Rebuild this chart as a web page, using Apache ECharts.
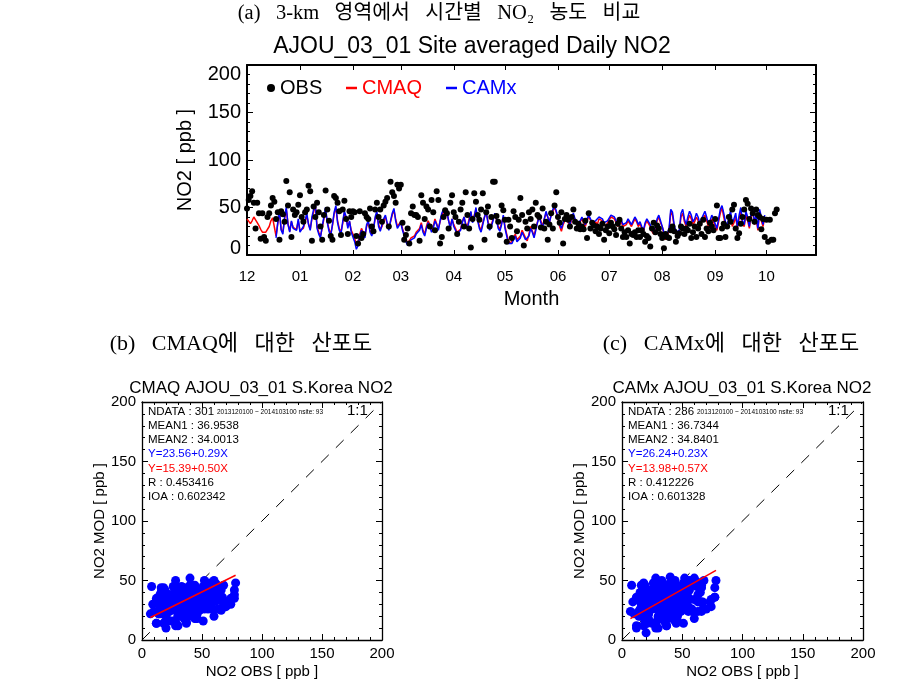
<!DOCTYPE html>
<html><head><meta charset="utf-8">
<script src="https://cdn.jsdelivr.net/npm/echarts@6/dist/echarts.min.js"></script>
<style>html,body{margin:0;padding:0;background:#fff}#c{width:920px;height:696px}</style>
</head><body><div id="c"></div>
<script>
// ---- data (daily, starting 2013-12-01) ----
const obsDec=[49,58,62,67,55,28,55,44,17,44,19,15,40,44,52,60,56,38,45,16,46,43,35,78,52,66,19,48,42,45,53];
const obsJan=[63,40,35,45,48,73,67,15,51,40,55,45,30,16,42,68,48,36,20,16,62,60,55,46,21,48,57,38,22,46,40];
const obsFeb=[46,45,20,12,46,18,22,44,40,38,49,30,25,48,55,40,48,35,52,56,60,30,77,66,62,55,74,70];
const obsMar=[74,34,16,21,28,12,44,51,42,42,40,15,63,55,38,51,48,30,58,45,26,67,58,12,19,40,47,44,28,55,63];
const obsApr=[45,40,22,35,48,55,30,66,42,28,8,38,65,56,42,37,48,65,16,45,51,30,40,77,77,41,35,21,52,47];
const obsMay=[37,14,37,30,18,46,40,25,37,60,42,10,35,28,45,38,48,30,55,42,40,29,49,28,35,16,32,44,28,52,66];
const obsJun=[40,34,45,12,38,42,37,30,40,48,35,28,33,27,30,27,36,18,44,28,34,31,25,30,22,28,33,16,26,30];
const obsJul=[23,34,30,27,21,33,37,28,19,24,19,26,12,22,21,24,19,26,19,26,22,14,20,18,9,28,34,24,31,28,22];
const obsAug=[18,7,22,19,18,26,30,25,14,20,23,30,28,22,28,26,33,18,24,30,19,28,33,22,37,19,28,25,34,30,26];
const obsSep=[38,52,18,18,28,33,19,30,40,35,48,53,28,18,23,33,40,48,58,54,38,49,44,35,48,42,40,27,38,19];
const obsOct=[37,14,37,16,16,44,48];

const cmaqDec=[38,37,33,36,40,37,34,31,27,24,23,24,26,30,36,39,37,20,33,44,27,24,38,48,33,25,35,29,31,27,36];
const cmaqJan=[26,24,28,35,41,33,27,38,45,52,30,24,20,28,38,46,35,27,22,31,43,50,36,28,24,33,44,40,30,35,26];
const cmaqFeb=[25,18,10,14,22,28,24,20,30,34,26,22,28,38,44,32,27,30,36,40,33,28,35,42,47,38,30,28];
const cmaqMar=[35,28,22,17,12,14,18,16,20,24,22,28,34,26,22,30,36,32,26,30,38,33,28,35,42,46,40,44,36,30,38];
const cmaqApr=[32,28,24,22,27,35,40,33,30,38,45,36,42,48,38,30,26,34,40,44,36,28,32,38,42,37,30,27,34,40];
const cmaqMay=[30,22,15,12,14,18,22,16,14,20,26,24,18,15,22,30,25,20,28,35,40,36,30,38,44,40,35,42,46,50,45];
const cmaqJun=[38,30,25,32,36,40,34,30,38,42,36,33,30,35,38,34,30,36,40,37,33,30,35,32,38,40,36,33,30,34];
const cmaqJul=[36,40,42,38,34,30,32,35,30,28,32,36,33,30,34,38,35,30,33,28,25,32,36,34,30,25,22,28,36,40,34];
const cmaqAug=[30,22,16,15,25,45,42,30,22,20,24,40,44,35,30,36,42,38,32,35,40,36,30,34,38,42,36,30,33,38,35];
const cmaqSep=[30,26,35,44,50,40,32,28,36,42,30,34,40,28,38,45,33,30,42,36,28,40,46,32,38,26,44,36,30,40];

const camxStartDay=17;
const camxDec=[18,34,46,26,22,40,50,32,24,36,28,30,26,38];
const camxJan=[24,22,30,36,44,32,26,40,48,53,28,22,18,30,40,50,34,25,20,32,45,52,34,26,22,35,46,40,28,36,24];
const camxFeb=[22,14,6,10,20,26,22,18,32,36,24,20,26,40,46,30,25,32,38,42,34,26,36,44,49,36,28,26];
const camxMar=[34,26,20,14,10,12,16,14,18,22,20,26,32,24,20,28,34,30,24,28,36,32,26,36,44,48,42,46,36,28,38];
const camxApr=[30,26,22,20,26,34,40,32,28,36,46,34,40,50,36,28,24,32,40,46,34,26,30,36,44,38,28,25,32,42];
const camxMay=[28,20,12,10,12,16,20,14,12,18,24,22,16,14,20,28,24,18,26,34,40,34,28,38,46,40,34,42,48,52,46];
const camxJun=[40,32,28,34,38,42,36,32,40,44,38,34,32,36,40,36,32,38,42,38,34,32,36,34,40,42,38,34,32,36];
const camxJul=[38,42,44,40,36,32,34,37,32,30,34,38,35,32,36,40,37,32,35,30,26,34,38,36,32,27,24,30,38,42,36];
const camxAug=[34,24,18,16,28,48,45,32,24,22,26,44,48,38,32,40,46,42,35,38,44,40,33,38,42,46,40,33,36,42,38];
const camxSep=[33,28,38,48,52,44,35,30,40,46,34,38,44,30,42,50,36,32,46,40,30,44,50,34,42,28,48,40,32,42];

const statsCMAQ=['NDATA : 301','MEAN1 : 36.9538','MEAN2 : 34.0013','Y=23.56+0.29X','Y=15.39+0.50X','R : 0.453416','IOA : 0.602342'];
const statsCAMx=['NDATA : 286','MEAN1 : 36.7344','MEAN2 : 34.8401','Y=26.24+0.23X','Y=13.98+0.57X','R : 0.412226','IOA : 0.601328'];
const regCMAQ=[15.39,0.50];
const regCAMx=[13.98,0.57];
const periodNote='2013120100 ~ 2014103100 nsite: 93';

// ---- build ----
const nDays=334;
const days=[];
const t0=Date.UTC(2013,11,1);
for(let i=0;i<nDays;i++){days.push(new Date(t0+i*86400000).toISOString().slice(0,10));}
function pad(arr){const a=arr.slice();while(a.length<nDays)a.push(null);return a;}
const obs=pad([].concat(obsDec,obsJan,obsFeb,obsMar,obsApr,obsMay,obsJun,obsJul,obsAug,obsSep,obsOct));
const cmaq=pad([].concat(cmaqDec,cmaqJan,cmaqFeb,cmaqMar,cmaqApr,cmaqMay,cmaqJun,cmaqJul,cmaqAug,cmaqSep));
const camxRaw=[];for(let i=0;i<camxStartDay;i++)camxRaw.push(null);
const camx=pad(camxRaw.concat(camxDec,camxJan,camxFeb,camxMar,camxApr,camxMay,camxJun,camxJul,camxAug,camxSep));
function pairs(mod){const p=[];for(let i=0;i<nDays;i++){if(obs[i]!=null&&mod[i]!=null)p.push([obs[i],mod[i]]);}return p;}
const pC=pairs(cmaq), pX=pairs(camx);
function regLine(p,c){let mn=Infinity,mx=-Infinity;p.forEach(d=>{mn=Math.min(mn,d[0]);mx=Math.max(mx,d[0]);});return [[mn,c[0]+c[1]*mn],[mx,c[0]+c[1]*mx]];}

const SANS="'Liberation Sans','Noto Sans',sans-serif";
const SERIF="'Liberation Serif','Noto Sans CJK KR',serif";
const GAP='\u2002 ';
const isMonth=(i,v)=>v.slice(8)==='01';

function valAxis(grid,pos,labels,name,nameGap,fs){
  return {type:'value',gridIndex:grid,position:pos,min:0,max:200,interval:50,
    axisLine:{show:true,onZero:false,lineStyle:{color:'#000',width:1.3}},
    axisTick:{show:true,inside:true,length:6,lineStyle:{color:'#000'}},
    minorTick:{show:true,splitNumber:5,length:3,lineStyle:{color:'#000'}},
    splitLine:{show:false},
    axisLabel:{show:labels,color:'#000',fontSize:fs,fontFamily:SANS,margin:6},
    name:name||'',nameLocation:'middle',nameGap:nameGap||0,
    nameTextStyle:{color:'#000',fontSize:fs,fontFamily:SANS}};
}

const xAxis=[
  {type:'category',gridIndex:0,data:days,boundaryGap:false,position:'bottom',
   axisLine:{show:true,onZero:false,lineStyle:{color:'#000',width:2}},
   axisTick:{show:true,inside:true,interval:isMonth,length:5,lineStyle:{color:'#000'}},
   axisLabel:{interval:isMonth,formatter:v=>v.slice(5,7),color:'#000',fontSize:15,fontFamily:SANS,margin:14},
   name:'Month',nameLocation:'middle',nameGap:34,nameTextStyle:{color:'#000',fontSize:20,fontFamily:SANS}},
  {type:'category',gridIndex:0,data:days,boundaryGap:false,position:'top',
   axisLine:{show:true,onZero:false,lineStyle:{color:'#000',width:2}},
   axisTick:{show:true,inside:true,interval:isMonth,length:5,lineStyle:{color:'#000'}},
   axisLabel:{show:false}},
  valAxis(1,'bottom',true,'NO2 OBS [ ppb ]',24,15),
  valAxis(1,'top',false),
  valAxis(2,'bottom',true,'NO2 OBS [ ppb ]',24,15),
  valAxis(2,'top',false)
];
const yA0=valAxis(0,'left',true,'NO2 [ ppb ]',52,20); yA0.axisLine.lineStyle.width=2;
yA0.axisLabel.formatter=v=>v===200?'{t|200}':(v===0?'{b|0}':String(v));
yA0.axisLabel.rich={t:{fontSize:20,fontFamily:SANS,color:'#000',padding:[18,0,0,0]},b:{fontSize:20,fontFamily:SANS,color:'#000',padding:[0,0,14,0]}};
const yA1=valAxis(0,'right',false); yA1.axisLine.lineStyle.width=2;
const yAxis=[yA0,yA1,
  valAxis(1,'left',true,'NO2 MOD [ ppb ]',32,15), valAxis(1,'right',false),
  valAxis(2,'left',true,'NO2 MOD [ ppb ]',32,15), valAxis(2,'right',false)];

function statsGraphics(x0,lines,x11){
  const cols=['#000','#000','#000','#0000ff','#ff0000','#000','#000'];
  const g=[];
  lines.forEach((t,i)=>g.push({type:'text',x:x0,y:411.7+i*14.2,style:{text:t,font:'11.5px '+SANS,fill:cols[i],align:'left',verticalAlign:'middle'}}));
  g.push({type:'text',x:x0+69,y:412,style:{text:periodNote,font:'6.5px '+SANS,fill:'#000',align:'left',verticalAlign:'middle'}});
  g.push({type:'text',x:x11,y:411,style:{text:'1:1',font:'15px '+SANS,fill:'#000',align:'left',verticalAlign:'middle'}});
  return g;
}

const graphic=[
  {type:'text',x:439,y:14,style:{text:['(a)','3-km','영역에서','시간별','NO₂','농도','비교'].join(GAP),font:'20.5px '+SERIF,fill:'#000',align:'center',verticalAlign:'middle'}},
  {type:'text',x:472,y:47,style:{text:'AJOU_03_01 Site averaged Daily NO2',font:'23px '+SANS,fill:'#000',align:'center',verticalAlign:'middle'}},
  {type:'text',x:241,y:344,style:{text:['(b)','CMAQ에','대한','산포도'].join(GAP),font:'22px '+SERIF,fill:'#000',align:'center',verticalAlign:'middle'}},
  {type:'text',x:731,y:344,style:{text:['(c)','CAMx에','대한','산포도'].join(GAP),font:'22px '+SERIF,fill:'#000',align:'center',verticalAlign:'middle'}},
  {type:'text',x:261,y:388,style:{text:'CMAQ AJOU_03_01 S.Korea NO2',font:'17px '+SANS,fill:'#000',align:'center',verticalAlign:'middle'}},
  {type:'text',x:742,y:388,style:{text:'CAMx AJOU_03_01 S.Korea NO2',font:'17px '+SANS,fill:'#000',align:'center',verticalAlign:'middle'}}
].concat(statsGraphics(148,statsCMAQ,347),statsGraphics(628,statsCAMx,828));

const legendBase={orient:'horizontal',top:73,textStyle:{fontSize:20,fontFamily:SANS},itemGap:0,selectedMode:false};

const option={
  animation:false,backgroundColor:'#fff',
  grid:[{left:247,top:65,width:569,height:190},{left:142,top:402,width:240,height:238},{left:622,top:402,width:241,height:238}],
  xAxis,yAxis,graphic,
  legend:[
    Object.assign({},legendBase,{left:262,data:[{name:'OBS',icon:'circle'}],itemWidth:8,itemHeight:8,textStyle:Object.assign({},legendBase.textStyle,{color:'#000'})}),
    Object.assign({},legendBase,{left:341,data:[{name:'CMAQ',icon:'rect'}],itemWidth:11,itemHeight:2.5,textStyle:Object.assign({},legendBase.textStyle,{color:'#ff0000'})}),
    Object.assign({},legendBase,{left:441,data:[{name:'CAMx',icon:'rect'}],itemWidth:11,itemHeight:2.5,textStyle:Object.assign({},legendBase.textStyle,{color:'#0000ff'})})
  ],
  series:[
    {name:'CMAQ',type:'line',xAxisIndex:0,yAxisIndex:0,data:cmaq,showSymbol:false,lineStyle:{color:'#ff0000',width:1.5},itemStyle:{color:'#ff0000'},z:2},
    {name:'CAMx',type:'line',xAxisIndex:0,yAxisIndex:0,data:camx,showSymbol:false,lineStyle:{color:'#0000ff',width:1.5},itemStyle:{color:'#0000ff'},z:3},
    {name:'OBS',type:'scatter',xAxisIndex:0,yAxisIndex:0,data:obs,symbolSize:6,itemStyle:{color:'#000',opacity:1},z:4},
    {name:'1:1 C',type:'line',xAxisIndex:2,yAxisIndex:2,data:[[0,0],[200,200]],showSymbol:false,lineStyle:{color:'#000',width:1,type:[11,10]},z:1},
    {name:'CMAQ pairs',type:'scatter',xAxisIndex:2,yAxisIndex:2,data:pC,symbolSize:9,itemStyle:{color:'#0000ff',opacity:1},z:2},
    {name:'CMAQ reg',type:'line',xAxisIndex:2,yAxisIndex:2,data:regLine(pC,regCMAQ),showSymbol:false,lineStyle:{color:'#ff0000',width:1.5},z:3},
    {name:'1:1 X',type:'line',xAxisIndex:4,yAxisIndex:4,data:[[0,0],[200,200]],showSymbol:false,lineStyle:{color:'#000',width:1,type:[11,10]},z:1},
    {name:'CAMx pairs',type:'scatter',xAxisIndex:4,yAxisIndex:4,data:pX,symbolSize:9,itemStyle:{color:'#0000ff',opacity:1},z:2},
    {name:'CAMx reg',type:'line',xAxisIndex:4,yAxisIndex:4,data:regLine(pX,regCAMx),showSymbol:false,lineStyle:{color:'#ff0000',width:1.5},z:3}
  ]
};
const chart=echarts.init(document.getElementById('c'),null,{renderer:'canvas'});
chart.setOption(option);
</script></body></html>
